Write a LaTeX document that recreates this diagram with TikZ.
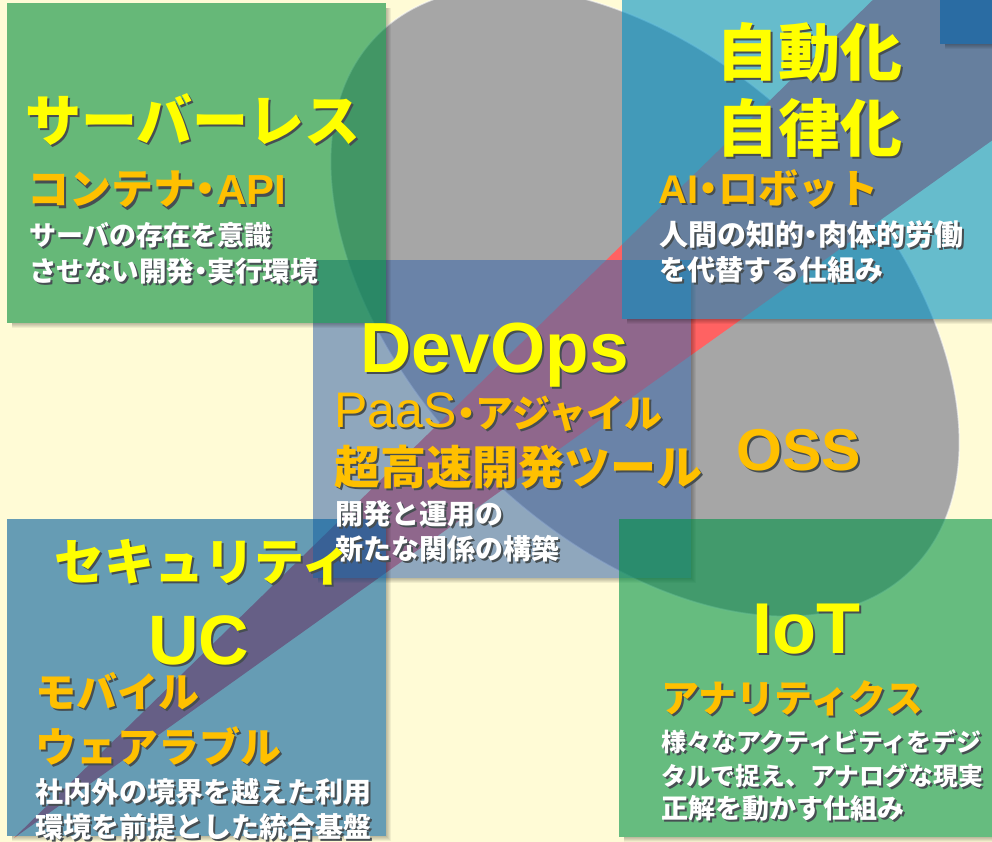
\documentclass[tikz,border=0pt]{standalone}
\usepackage{fontspec}
\newfontfamily\jp{Noto Sans CJK JP}
\newfontfamily\lat{Liberation Sans}
\definecolor{cream}{RGB}{255,251,214}
\definecolor{ovalgray}{RGB}{166,166,166}
\definecolor{bandred}{RGB}{255,98,98}
\definecolor{tlgreen}{RGB}{0,140,58}
\definecolor{trblue}{RGB}{0,147,198}
\definecolor{cblue}{RGB}{63,107,171}
\definecolor{blblue}{RGB}{0,94,158}
\definecolor{brgreen}{RGB}{0,147,70}
\definecolor{darkblue}{RGB}{42,108,163}
\definecolor{titleyellow}{RGB}{255,255,0}
\definecolor{suborange}{RGB}{255,192,0}
\definecolor{shadowc}{RGB}{70,78,82}
\newcommand\hd{\makebox[0.5em][c]{・}}
\newcommand\tx[6]{%
  \node[anchor=base west, inner sep=0pt,
        font=\jp\bfseries\fontsize{#5}{#5}\selectfont] (#1) at (#2,#3)
        {\rlap{\hspace{2pt}\raisebox{-2pt}{\color{shadowc}#6}}\textcolor{#4}{#6}};}
\newcommand\bshadow[4]{%
  \foreach \i in {1,...,5}{%
    \fill[black,opacity=0.055] ({#1+5},#4) rectangle ({#3+\i},{#4+\i});
    \fill[black,opacity=0.055] (#3,{#2+5}) rectangle ({#3+\i},#4);}}
\tikzset{panel/.style={opacity=0.6}}
\begin{document}
\begin{tikzpicture}[x=1pt,y=-1pt]
\useasboundingbox (0,0) rectangle (992,842);
\clip (0,0) rectangle (992,842);
\fill[cream] (0,0) rectangle (992,842);
% gray oval
\begin{scope}[shift={(645,302)}, rotate=-45]
  \fill[ovalgray] (0,0) ellipse [x radius=378pt, y radius=234pt];
  \draw[white, draw opacity=0.55, line width=1.5pt] (0,0) ellipse [x radius=378pt, y radius=234pt];
\end{scope}
% red wedge
\fill[bandred] (14,838) -- (924,-50) -- (1060,-50) -- (1060,92) -- cycle;
% center panel
\bshadow{313}{260}{691}{578}
\fill[cblue, opacity=0.58] (313,260) rectangle (691,578);
% corner panels
\bshadow{7}{3}{386}{323}
\fill[tlgreen, panel] (7,3) rectangle (386,323);
\bshadow{622}{-10}{1000}{319}
\fill[trblue, panel] (622,-10) rectangle (1000,319);
\bshadow{7}{519}{386}{836}
\fill[blblue, panel] (7,519) rectangle (386,836);
\bshadow{619}{519}{1000}{837}
\fill[brgreen, panel] (619,519) rectangle (1000,837);
\bshadow{940}{-10}{1000}{44}
\fill[darkblue] (940,-10) rectangle (1000,44);
% top-left texts
\tx{serverless}{25}{142}{titleyellow}{56}{サーバーレス}
\tx{container}{27}{205}{suborange}{42}{コンテナ\hd{\lat API}}
\tx{tlA}{29}{245}{white}{27}{サーバの存在を意識}
\tx{tlB}{29}{281}{white}{27.5}{させない開発\hd 実行環境}
% top-right texts
\tx{auto}{716}{76}{titleyellow}{62}{自動化}
\tx{autonomy}{716}{152}{titleyellow}{62}{自律化}
\tx{ai}{658}{204}{suborange}{40}{{\lat AI}\hd ロボット}
\tx{trA}{659}{245}{white}{29}{人間の知的\hd 肉体的労働}
\tx{trB}{659}{280}{white}{28}{を代替する仕組み}
% center texts
\tx{devops}{360}{372}{titleyellow}{71}{\lat DevOps}
\tx{paas}{334}{427}{suborange}{38}{{\lat\mdseries\fontsize{50}{50}\selectfont PaaS}\hd アジャイル}
\tx{tools}{334}{484}{suborange}{46}{超高速開発ツール}
\tx{cA}{335}{524}{white}{28}{開発と運用の}
\tx{cB}{335}{559}{white}{28}{新たな関係の構築}
% OSS
\tx{oss}{736}{470}{suborange}{59}{\lat OSS}
% bottom-left texts
\tx{security}{54}{580}{titleyellow}{50}{セキュリティ}
\tx{uc}{148}{664}{titleyellow}{70}{\lat UC}
\tx{mobile}{35}{707}{suborange}{41}{モバイル}
\tx{wearable}{35}{762}{suborange}{41}{ウェアラブル}
\tx{blA}{35}{802}{white}{28}{社内外の境界を越えた利用}
\tx{blB}{35}{837}{white}{28}{環境を前提とした統合基盤}
% bottom-right texts
\tx{iot}{752}{653}{titleyellow}{72}{\lat IoT}
\tx{analytics}{661}{712}{suborange}{38}{アナリティクス}
\tx{brA}{661}{751}{white}{25}{様々なアクティビティをデジ}
\tx{brB}{661}{785}{white}{24.8}{タルで捉え、アナログな現実}
\tx{brC}{661}{818}{white}{27}{正解を動かす仕組み}
\end{tikzpicture}
\end{document}
